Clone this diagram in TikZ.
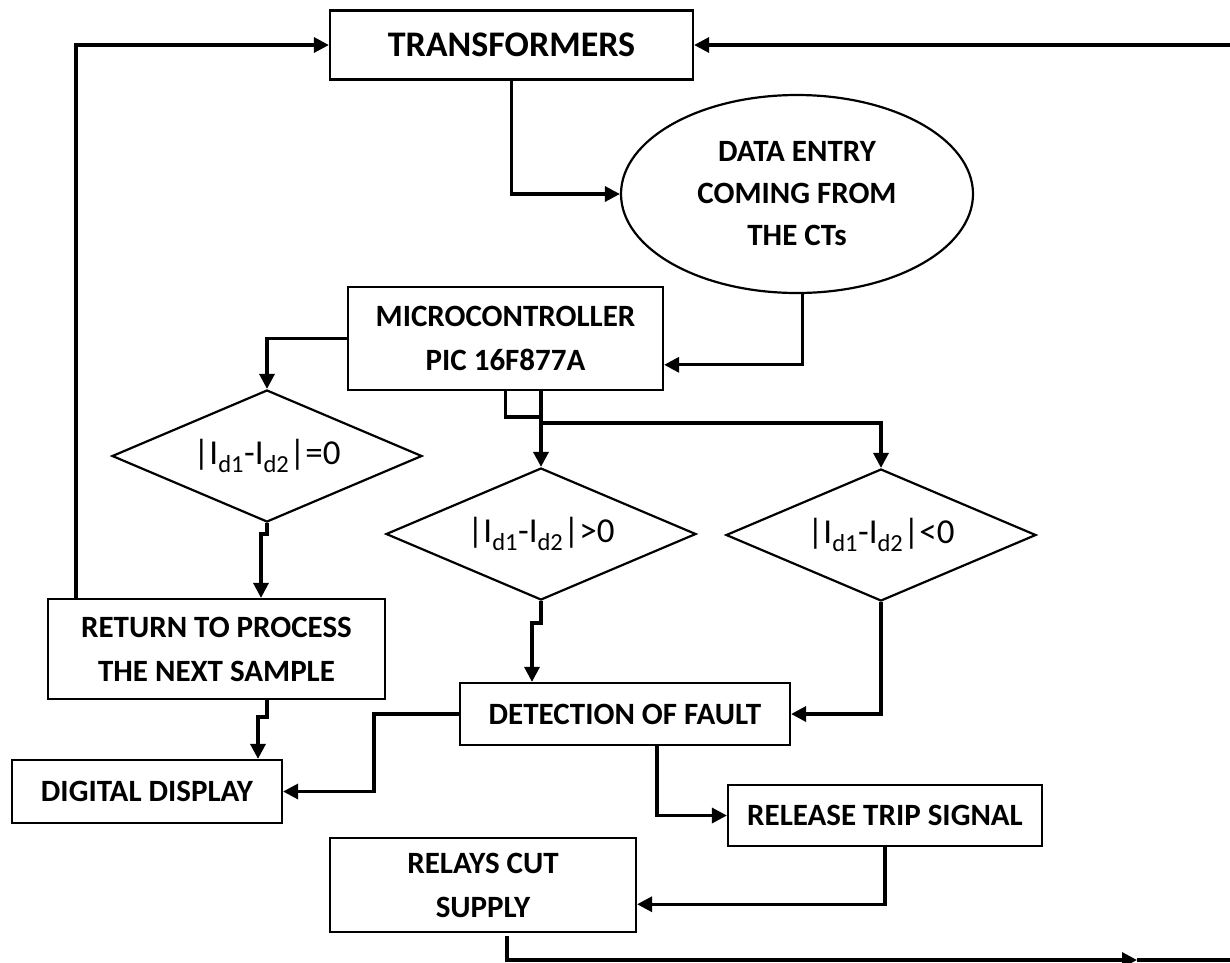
\documentclass[tikz,border=0pt]{standalone}
\usepackage{fontspec}
\setmainfont{Carlito}
\usetikzlibrary{shapes.geometric, arrows.meta, calc}

\tikzset{
  box/.style={draw, line width=2.2pt, align=center, inner sep=0pt,
    font=\fontsize{31}{44}\selectfont\bfseries},
  entry/.style={draw, ellipse, line width=2.2pt, align=center, inner sep=0pt,
    minimum width=352, minimum height=198, font=\fontsize{31}{42}\selectfont\bfseries},
  decision/.style={draw, diamond, aspect=2.35, line width=2.2pt, inner sep=0pt,
    minimum width=310, minimum height=132, font=\fontsize{35}{40}\selectfont},
  wire/.style={line width=3.3pt},
  line/.style={wire, -{Triangle[length=15pt,width=15pt]}},
}

\begin{document}
\begin{tikzpicture}[x=1pt,y=-1pt]
  \useasboundingbox (0,0) rectangle (1230,962);

  % blocks
  \node[box, minimum width=363, minimum height=69, font=\fontsize{36}{44}\selectfont\bfseries] (tr) at (511.5,45) {TRANSFORMERS};
  \node[entry] (ent) at (797,194) {DATA ENTRY\\COMING FROM\\THE CTs};
  \node[box, minimum width=315, minimum height=103] (mc) at (505.5,338.5) {MICROCONTROLLER\\PIC 16F877A};
  \node[decision] (d1) at (267,456) {|I\textsubscript{d1}-I\textsubscript{d2}|=0};
  \node[decision] (d2) at (541,534) {|I\textsubscript{d1}-I\textsubscript{d2}|>0};
  \node[decision] (d3) at (881,535) {|I\textsubscript{d1}-I\textsubscript{d2}|<0};
  \node[box, minimum width=337, minimum height=100] (ret) at (216.5,649) {RETURN TO PROCESS\\THE NEXT SAMPLE};
  \node[box, minimum width=330, minimum height=62] (det) at (625,714) {DETECTION OF FAULT};
  \node[box, minimum width=270, minimum height=63] (dig) at (147,791.5) {DIGITAL DISPLAY};
  \node[box, minimum width=314, minimum height=61] (rel) at (885,815.5) {RELEASE TRIP SIGNAL};
  \node[box, minimum width=306, minimum height=94] (cut) at (483,885) {RELAYS CUT\\SUPPLY};

  % free ends
  \coordinate (back) at (76,599);
  \coordinate (topin) at (1230,45);
  \coordinate (split) at (541,417);
  \coordinate (fork) at (541,423);
  \coordinate (cutdown) at (507,936);
  \coordinate (botmid) at (1137,960);
  \coordinate (botout) at (1230,960);

  % connectors
  \draw[line] (back) |- (tr.west);
  \draw[line] (topin) -- (tr.east);
  \draw[line] (tr.south) |- (ent.west);
  \draw[line] (ent.-87) |- ($(mc.east)!0.5!(mc.south east)$);
  \draw[line] (mc.west) -| (d1.north);
  \draw[wire] (mc.south) |- (split);
  \draw[line] (mc.south -| d2.north) -- (d2.north);
  \draw[line] (fork) -| (d3.north);
  \draw[line] (d1.south) -- ++(0,11) -- ++(-6,0) coordinate (j1) -- (j1 |- ret.north);
  \draw[line] (ret.south -| d1.south) -- ++(0,17) -- ++(-9,0) coordinate (j2) -- (j2 |- dig.north);
  \draw[line] (d2.south) -- ++(0,22) -- ++(-9,0) coordinate (j3) -- (j3 |- det.north);
  \draw[line] (d3.south) |- (det.east);
  \draw[line] (det.west) -- ++(-85,0) |- (dig.east);
  \draw[line] ($(det.south)+(32,0)$) |- (rel.west);
  \draw[line] (rel.south) |- ($(cut.east)!0.4!(cut.south east)$);
  \draw[line] (cutdown) |- (botmid);
  \draw[wire] (botmid) -- (botout);
\end{tikzpicture}
\end{document}
